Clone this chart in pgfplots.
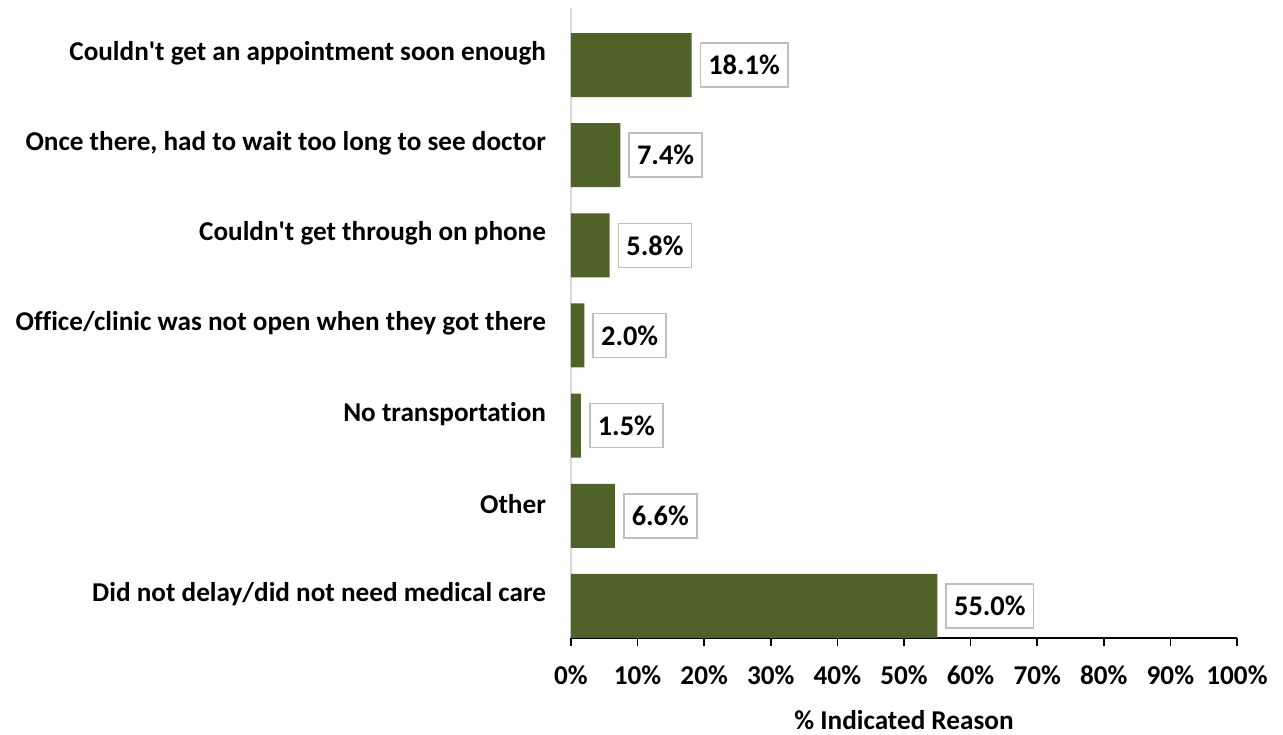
\documentclass[border=0pt]{standalone}
\usepackage{fontspec}
\setmainfont{Carlito}[Ligatures={TeX,NoCommon}]
\usepackage{pgfplots}
\pgfplotsset{compat=1.18}
\definecolor{barc}{HTML}{4F6228}
\definecolor{boxc}{HTML}{BFBFBF}
\definecolor{axc}{HTML}{D9D9D9}
\newcommand{\lf}{\fontsize{13.6}{16}\selectfont\bfseries}
\newcommand{\nf}{\fontsize{14.2}{16}\selectfont\bfseries}
\begin{document}
\begin{tikzpicture}[x=1pt,y=1pt]
\path[use as bounding box] (-285.5,-48) rectangle (356,319);
\begin{axis}[
  at={(0,0)}, anchor=south west, scale only axis,
  width=333pt, height=315pt,
  xbar, bar width=32pt,
  xmin=0, xmax=100, ymin=-0.633, ymax=6.356, y dir=reverse,
  axis x line*=bottom, axis y line*=left,
  x axis line style={black, line width=0.8pt},
  y axis line style={axc, line width=0.8pt},
  tick align=outside, major tick length=4pt,
  xtick={0,10,...,100},
  xticklabels={0\%,10\%,20\%,30\%,40\%,50\%,60\%,70\%,80\%,90\%,100\%},
  xtick style={black, line width=0.8pt},
  ytick={0,...,6},
  yticklabels={Couldn\textquotesingle t get an appointment soon enough,
    {Once there, had to wait too long to see doctor},
    Couldn\textquotesingle t get through on phone,
    Office/clinic was not open when they got there,
    No transportation,
    Other\hspace{3.5pt},
    Did not delay/did not need medical care},
  ytick style={draw=none},
  tick label style={font=\lf},
  yticklabel style={xshift=-5pt, yshift=6pt},
  xticklabel style={yshift=-6.5pt},
  xlabel={\% Indicated Reason},
  xlabel style={font=\lf, yshift=-6pt},
  /pgf/number format/assume math mode=true,
  point meta=x,
  nodes near coords={\pgfmathprintnumber[fixed,fixed zerofill,precision=1]{\pgfplotspointmeta}\%},
  every node near coord/.append style={font=\nf, draw=boxc, fill=white, line width=0.8pt, inner xsep=4pt, minimum height=22pt, anchor=west, xshift=4pt},
]
\addplot[fill=barc, draw=none] coordinates {(18.1,0) (7.4,1) (5.8,2) (2.0,3) (1.5,4) (6.6,5) (55.0,6)};
\end{axis}
\end{tikzpicture}
\end{document}
